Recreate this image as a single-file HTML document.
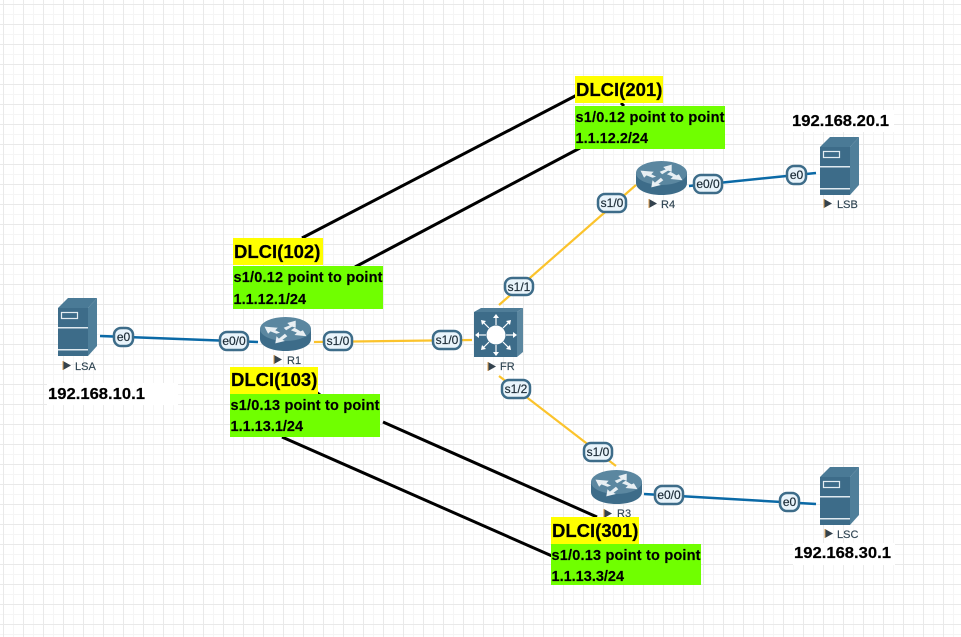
<!DOCTYPE html>
<html><head><meta charset="utf-8"><style>
html,body{margin:0;padding:0;background:#fff}
svg{display:block;font-family:"Liberation Sans",Arial,sans-serif}
.pt{font-size:12px;fill:#1d2d38;text-anchor:middle;stroke:#1d2d38;stroke-width:.2}
.nl{font-size:11px;fill:#2f4452;stroke:#2f4452;stroke-width:.15}
.ip{font-size:16px;font-weight:bold;fill:#000;stroke:#000;stroke-width:.2}
.dl{font-size:18.5px;font-weight:bold;fill:#000;stroke:#000;stroke-width:.2}
.gt{font-size:14.5px;font-weight:bold;fill:#000;stroke:#000;stroke-width:.15}
</style></head><body>
<svg width="961" height="637" viewBox="0 0 961 637" xmlns="http://www.w3.org/2000/svg">
<defs>
<pattern id="g" x="3" y="4" width="20" height="20" patternUnits="userSpaceOnUse">
<rect x="10" y="0" width="1" height="20" fill="#f5f5f5"/><rect x="0" y="10" width="20" height="1" fill="#f5f5f5"/>
<rect x="0" y="0" width="1" height="20" fill="#e9e9e9"/><rect x="0" y="0" width="20" height="1" fill="#e9e9e9"/>
</pattern>
<g id="srv">
<polygon points="0,10 10,0 39,0 30,10" fill="#4a7a96"/>
<polygon points="30,10 39,0 39,48 30,58" fill="#4f7f9a"/>
<rect x="0" y="10" width="30" height="48" fill="#3d6c89"/>
<rect x="0" y="29" width="30" height="1.5" fill="#dfe9ef"/>
<rect x="0" y="51" width="30" height="1.5" fill="#dfe9ef"/>
<rect x="3.500" y="14.500" width="16" height="6" fill="none" stroke="#e4edf2" stroke-width="1.2"/>
</g>
<g id="rtr">
<path d="M0,12 V22 C0,29 11,34 25.5,34 C40,34 51,29 51,22 V12 Z" fill="#3d6c89"/>
<ellipse cx="25.5" cy="12" rx="25.5" ry="12" fill="#5b87a0"/>
<g fill="#e8eff3" transform="translate(25.5 12) scale(1.2) translate(-25.5 -10)">
<polygon points="8,8 19,9 17,11 21,13 18,14 13,12 11,14"/>
<polygon points="34,3 34,9 31,8 26,11 24,9 29,7 27,5"/>
<polygon points="43,16 33,15 35,13 30,11 33,9 38,12 40,11"/>
<polygon points="17,22 18,16 20,18 25,14 27,16 23,19 25,20"/>
</g>
</g>
<g id="tri"><polygon points="0,0 8,4.5 0,9" fill="#33424e"/><rect x="-0.500" y="0" width="1" height="9" fill="#d99a4a"/></g>
</defs>
<rect width="961" height="637" fill="#fff"/>
<rect width="961" height="637" fill="url(#g)"/>

<g stroke="#fbc32c" stroke-width="2.2" fill="none">
<line x1="314" y1="342" x2="472" y2="340"/>
<line x1="499" y1="305" x2="636" y2="185"/>
<line x1="499" y1="376" x2="616" y2="466"/>
</g>
<g stroke="#0a69a6" stroke-width="2.500" fill="none">
<line x1="100" y1="336" x2="258" y2="342"/>
<line x1="689" y1="186" x2="816" y2="173"/>
<line x1="644" y1="494" x2="816" y2="504"/>
</g>
<g stroke="#000" stroke-width="3" fill="none">
<line x1="302" y1="238" x2="577" y2="95"/>
<line x1="355" y1="267" x2="580" y2="148"/>
<line x1="621" y1="103" x2="624" y2="106"/>
<line x1="316" y1="392" x2="320" y2="395"/>
<line x1="383" y1="422" x2="597" y2="517"/>
<line x1="282" y1="437" x2="552" y2="556"/>
</g>

<use href="#srv" x="58" y="298"/>
<use href="#srv" x="820" y="137"/>
<use href="#srv" x="820" y="467"/>
<use href="#rtr" x="260" y="317"/>
<use href="#rtr" x="636" y="161"/>
<use href="#rtr" x="591" y="470"/>

<g>
<rect x="474" y="312" width="43" height="45" fill="#3d6c89"/>
<polygon points="474,312 481,308 523,308 517,312" fill="#4f7d98"/>
<polygon points="517,312 523,308 523,352 517,357" fill="#5b87a0"/>
<circle cx="496" cy="335" r="9.5" fill="#fff"/>
<g stroke="#fff" stroke-width="1.2" fill="#fff">
<line x1="496" y1="325" x2="496" y2="316"/><line x1="496" y1="345" x2="496" y2="354"/>
<line x1="486" y1="335" x2="477" y2="335"/><line x1="506" y1="335" x2="515" y2="335"/>
<line x1="489" y1="328" x2="483" y2="322"/><line x1="503" y1="328" x2="509" y2="322"/>
<line x1="489" y1="342" x2="483" y2="348"/><line x1="503" y1="342" x2="509" y2="348"/>
</g>
<g fill="#fff">
<polygon points="496,314 493,318 499,318"/><polygon points="496,356 493,352 499,352"/>
<polygon points="475,335 479,332 479,338"/><polygon points="517,335 513,332 513,338"/>
<polygon points="481,320 486,321 482,325"/><polygon points="511,320 506,321 510,325"/>
<polygon points="481,350 486,349 482,345"/><polygon points="511,350 506,349 510,345"/>
</g>
</g>

<g stroke="#3d6c89" stroke-width="2.500" fill="#e9f4fb">
<rect x="114" y="328" width="19" height="18" rx="7"/>
<rect x="220" y="332" width="28" height="18" rx="7"/>
<rect x="324" y="332" width="28" height="18" rx="7"/>
<rect x="433" y="331" width="28" height="18" rx="7"/>
<rect x="505" y="278" width="28" height="17" rx="7"/>
<rect x="502" y="380" width="28" height="18" rx="7"/>
<rect x="598" y="194" width="28" height="18" rx="7"/>
<rect x="694" y="175" width="28" height="18" rx="7"/>
<rect x="787" y="166" width="19" height="18" rx="7"/>
<rect x="584" y="443" width="28" height="18" rx="7"/>
<rect x="655" y="486" width="28" height="18" rx="7"/>
<rect x="780" y="493" width="19" height="18" rx="7"/>
</g>
<text class="pt" x="123.500" y="341">e0</text>
<text class="pt" x="234" y="345">e0/0</text>
<text class="pt" x="338" y="345">s1/0</text>
<text class="pt" x="447" y="344">s1/0</text>
<text class="pt" x="519" y="291">s1/1</text>
<text class="pt" x="516" y="393">s1/2</text>
<text class="pt" x="612" y="207">s1/0</text>
<text class="pt" x="708" y="188">e0/0</text>
<text class="pt" x="796.500" y="179">e0</text>
<text class="pt" x="598" y="456">s1/0</text>
<text class="pt" x="669" y="499">e0/0</text>
<text class="pt" x="789.500" y="506">e0</text>

<use href="#tri" x="63" y="361"/><text class="nl" x="75" y="370">LSA</text>
<use href="#tri" x="274" y="355"/><text class="nl" x="287" y="364">R1</text>
<use href="#tri" x="488" y="362"/><text class="nl" x="500" y="370">FR</text>
<use href="#tri" x="649" y="199"/><text class="nl" x="661" y="208">R4</text>
<use href="#tri" x="824" y="199"/><text class="nl" x="837" y="208">LSB</text>
<use href="#tri" x="825" y="529"/><text class="nl" x="837" y="538">LSC</text>
<use href="#tri" x="604" y="509"/><text class="nl" x="617" y="517">R3</text>

<rect x="47" y="383" width="131" height="22" fill="#fff"/>
<rect x="790" y="110" width="104" height="22" fill="#fff"/>
<rect x="793" y="543" width="102" height="22" fill="#fff"/>
<text class="ip" x="48" y="399" textLength="97" lengthAdjust="spacingAndGlyphs">192.168.10.1</text>
<text class="ip" x="792" y="126" textLength="97" lengthAdjust="spacingAndGlyphs">192.168.20.1</text>
<text class="ip" x="794" y="558" textLength="97" lengthAdjust="spacingAndGlyphs">192.168.30.1</text>

<rect x="575" y="76" width="88" height="27" fill="#ffff00"/>
<rect x="575" y="106" width="150" height="43" fill="#70ff00"/>
<text class="dl" x="576" y="96">DLCI(201)</text>
<text class="gt" x="575.500" y="122" textLength="149">s1/0.12 point to point</text>
<text class="gt" x="575.500" y="143">1.1.12.2/24</text>

<rect x="233" y="238" width="90" height="27" fill="#ffff00"/>
<rect x="233" y="266" width="150" height="43" fill="#70ff00"/>
<text class="dl" x="234" y="258">DLCI(102)</text>
<text class="gt" x="233.500" y="282" textLength="149">s1/0.12 point to point</text>
<text class="gt" x="233.500" y="304">1.1.12.1/24</text>

<rect x="230" y="367" width="88" height="27" fill="#ffff00"/>
<rect x="230" y="394" width="150" height="43" fill="#70ff00"/>
<text class="dl" x="231" y="386">DLCI(103)</text>
<text class="gt" x="230.500" y="410" textLength="149">s1/0.13 point to point</text>
<text class="gt" x="230.500" y="431">1.1.13.1/24</text>

<rect x="551" y="517" width="88" height="27" fill="#ffff00"/>
<rect x="551" y="544" width="150" height="41" fill="#70ff00"/>
<text class="dl" x="552" y="537">DLCI(301)</text>
<text class="gt" x="551.500" y="560" textLength="149">s1/0.13 point to point</text>
<text class="gt" x="551.500" y="581">1.1.13.3/24</text>
</svg>
</body></html>
